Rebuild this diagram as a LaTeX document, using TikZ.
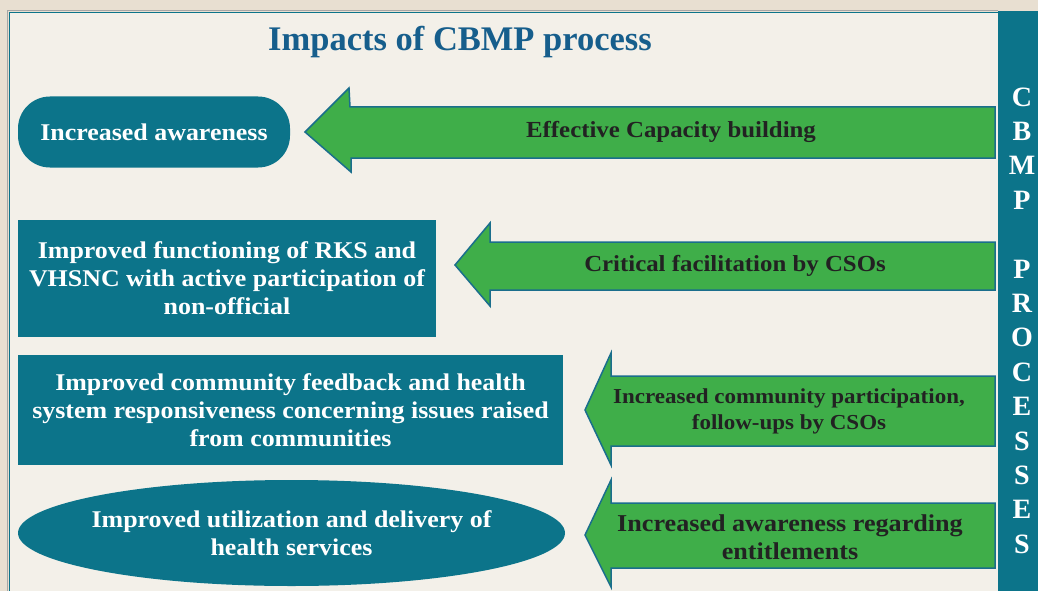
\documentclass[tikz,border=0pt]{standalone}
\usepackage{fontspec}
\setmainfont{Liberation Serif}
\newfontfamily\widefont[FakeStretch=1.08]{Liberation Serif}
\usetikzlibrary{shapes.geometric}
\definecolor{tealbox}{RGB}{12,116,138}
\definecolor{arrowgreen}{RGB}{63,174,73}
\definecolor{arrowedge}{RGB}{26,110,140}
\definecolor{paper}{RGB}{243,240,233}
\definecolor{marble}{RGB}{232,223,209}
\definecolor{titleblue}{RGB}{22,94,140}
\definecolor{inkdark}{RGB}{34,34,34}
\tikzset{
  impact/.style={fill=tealbox,text=white,font=\widefont\bfseries\fontsize{24}{28}\selectfont,align=center,inner sep=0pt},
  procarrow/.style={fill=arrowgreen,draw=arrowedge,line width=1.5pt,line join=miter},
  arrowtext/.style={text=inkdark,font=\widefont\bfseries\fontsize{23}{26}\selectfont,align=center},
  barletter/.style={text=white,font=\bfseries\fontsize{28}{30}\selectfont}
}
\begin{document}
\begin{tikzpicture}[x=1pt,y=-1pt]
\useasboundingbox (0,0) rectangle (1038,591);
\fill[marble] (0,0) rectangle (1038,591);
\fill[paper] (9,12) rectangle (998,591);
\draw[gray!70,line width=1pt] (7.5,591)--(7.5,11)--(998,11);
\draw[tealbox,line width=1pt] (9.5,591)--(9.5,12.5)--(998,12.5);
\fill[tealbox] (998,11) rectangle (1038,591);
% title
\node[text=titleblue,font=\bfseries\fontsize{34.5}{38}\selectfont] (title) at (460,42) {Impacts of CBMP process};
% impacts
\node[impact,rounded corners=32pt,minimum width=272pt,minimum height=71pt] (aware) at (154,132) {Increased awareness};
\node[impact,minimum width=418pt,minimum height=117pt] (rks) at (227,278.5) {Improved functioning of RKS and\\VHSNC with active participation of\\non-official};
\node[impact,minimum width=545pt,minimum height=110pt] (feedback) at (290.5,410) {Improved community feedback and health\\system responsiveness concerning issues raised\\from communities};
\node[impact,ellipse,inner xsep=-40pt,minimum width=547pt,minimum height=106pt] (health) at (291.5,533) {Improved utilization and delivery of\\health services};
% processes
\draw[procarrow] (995,107)--(350,107)--(349,88)--(305,132)--(351,172)--(351,158)--(995,158)--cycle;
\draw[procarrow] (995,242)--(490,242)--(490,223)--(455,265)--(490,306)--(490,290)--(995,290)--cycle;
\draw[procarrow] (995,376)--(611,376)--(611,353)--(585,410)--(611,465)--(611,446)--(995,446)--cycle;
\draw[procarrow] (995,503)--(611,503)--(611,480)--(585,535)--(611,587)--(611,568)--(995,568)--cycle;
\node[arrowtext] (capacity) at (671,132) {Effective Capacity building};
\node[arrowtext] (cso) at (735,266) {Critical facilitation by CSOs};
\node[arrowtext,font=\widefont\bfseries\fontsize{21.3}{26}\selectfont] (community) at (789,411) {Increased community participation,\\follow-ups by CSOs};
\node[arrowtext,font=\widefont\bfseries\fontsize{24.2}{28}\selectfont] (entitle) at (790,537) {Increased awareness regarding\\entitlements};
% side bar
\foreach \l [count=\i from 0] in {C,B,M,P,{},P,R,O,C,E,S,S,E,S}
  \node[barletter] (bl\i) at (1022,97+34.4*\i) {\l};
\end{tikzpicture}
\end{document}
